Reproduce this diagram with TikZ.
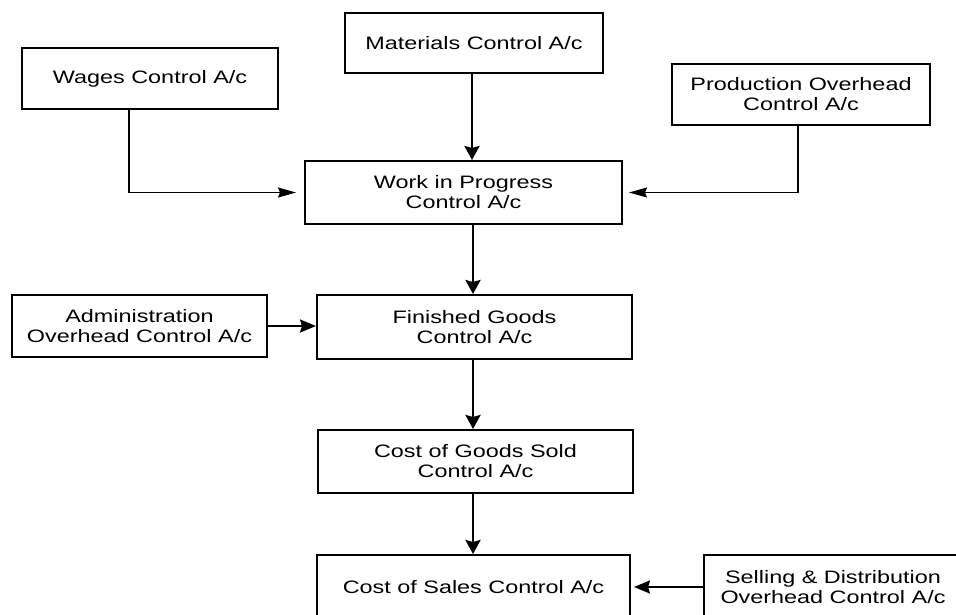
\documentclass[tikz,border=0pt]{standalone}
\usepackage{fontspec}
\setmainfont[FakeStretch=1.3]{Liberation Sans}
\usetikzlibrary{arrows.meta}
\begin{document}
\begin{tikzpicture}[x=1pt,y=-1pt,
  acct/.style={draw=black, line width=2pt, fill=white, inner sep=0pt, align=center,
    font=\fontsize{18}{20}\selectfont},
  flowmain/.style={line width=2.7pt, -{Stealth[length=14pt,width=15pt,inset=2pt]}},
  flowside/.style={line width=2.2pt, -{Stealth[length=16pt,width=13pt,inset=2pt]}},
  flowthin/.style={line width=1.5pt, -{Stealth[length=18pt,width=10pt,inset=2pt]}}]
\clip (0,0) rectangle (956,614);
\useasboundingbox (0,0) rectangle (956,614);

% account boxes
\node[acct, minimum width=256pt, minimum height=61pt] (wages) at (150,78.5) {Wages Control A/c};
\node[acct, minimum width=258pt, minimum height=60pt] (mat) at (474,43) {Materials Control A/c};
\node[acct, minimum width=258pt, minimum height=61pt] (prod) at (801,94.5) {Production Overhead\\Control A/c};
\node[acct, minimum width=317pt, minimum height=63pt] (wip) at (463.5,192.5) {Work in Progress\\Control A/c};
\node[acct, minimum width=255pt, minimum height=62pt] (admin) at (139.5,326) {Administration\\Overhead Control A/c};
\node[acct, minimum width=315pt, minimum height=64pt] (fin) at (474.5,327) {Finished Goods\\Control A/c};
\node[acct, minimum width=315pt, minimum height=63pt] (cogs) at (475.5,461.5) {Cost of Goods Sold\\Control A/c};
\node[acct, minimum width=313pt, minimum height=64pt] (cos) at (473.5,587) {Cost of Sales Control A/c};
\node[acct, minimum width=258pt, minimum height=64pt] (sell) at (833,587) {Selling \& Distribution\\Overhead Control A/c};

% flows into work in progress
\draw[flowthin, shorten >=8pt] ([xshift=-21pt]wages.south) |- (wip.west);
\draw[flowmain] (mat.south -| 472,0) -- (wip.north -| 472,0);
\draw[flowthin, shorten >=6pt] ([xshift=-3pt]prod.south) |- (wip.east);

% down the main chain
\draw[flowmain] (wip.south -| 473,0) -- (fin.north -| 473,0);
\draw[flowside] (admin.east) -- (admin.east -| fin.west);
\draw[flowmain] (fin.south -| 473,0) -- (cogs.north -| 473,0);
\draw[flowmain] (cogs.south -| 473,0) -- (cos.north -| 473,0);
\draw[flowside, shorten >=3pt] (sell.west) -- (sell.west -| cos.east);
\end{tikzpicture}
\end{document}
